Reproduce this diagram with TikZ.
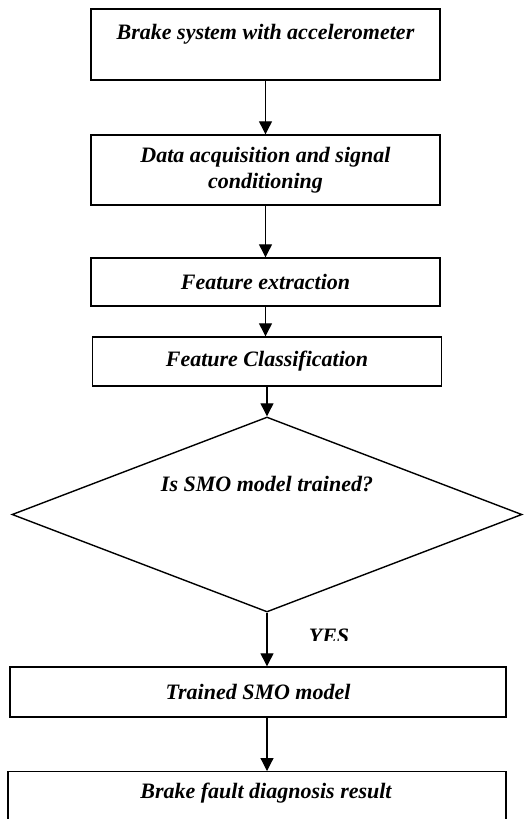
\documentclass[tikz,border=0pt]{standalone}
\usepackage{fontspec}
\setmainfont{Liberation Serif}
\usetikzlibrary{arrows.meta,shapes.geometric}
\begin{document}
\begin{tikzpicture}[x=1pt,y=-1pt,
  lbl/.style={font=\fontsize{22}{26}\selectfont\bfseries\itshape},
  box/.style={draw,line width=1.4pt,minimum width=349pt,minimum height=#1,inner sep=0pt,lbl,align=center},
  arr/.style={-{Triangle[length=13pt,width=13pt]},line width=1.2pt}]
\clip (0,0) rectangle (529,819);
\fill[white] (0,0) rectangle (529,819);
\node[box=71pt] (b1) at (265.5,44.5) {Brake system with accelerometer\\[-1pt]\mbox{}};
\node[box=70pt] (b2) at (265.5,170) {Data acquisition and signal\\[0pt] conditioning\\[-22pt]\mbox{}};
\node[box=48pt] (b3) at (265.5,282) {Feature extraction};
\node[box=49pt] (b4) at (267,361.5) {Feature Classification};
\node[draw,diamond,line width=1.4pt,minimum width=510pt,minimum height=195pt,inner sep=0pt,
  label={[lbl,yshift=30pt]center:Is SMO model trained?}] (d) at (267,514.5) {};
\node[draw,line width=1.4pt,minimum width=496pt,minimum height=50pt,inner sep=0pt,lbl] (b5) at (258,692) {Trained SMO model};
\node[draw,line width=1.4pt,minimum width=498pt,minimum height=100pt,inner sep=0pt,anchor=north,
  label={[lbl,anchor=center,xshift=9pt,yshift=-22pt]north:Brake fault diagnosis result}] (b6) at (257,771) {};
\begin{scope}
\clip (290,620) rectangle (370,640);
\node[lbl,anchor=base] (yes) at (329,643) {YES};
\end{scope}
\draw[arr] (b1) -- (b2);
\draw[arr] (b2) -- (b3);
\draw[arr] (b3.south) -- (b3.south |- b4.north);
\draw[arr] (b4) -- (d);
\draw[arr] (d.south) -- (d.south |- b5.north);
\draw[arr] (d.south |- b5.south) -- (d.south |- b6.north);
\end{tikzpicture}
\end{document}
